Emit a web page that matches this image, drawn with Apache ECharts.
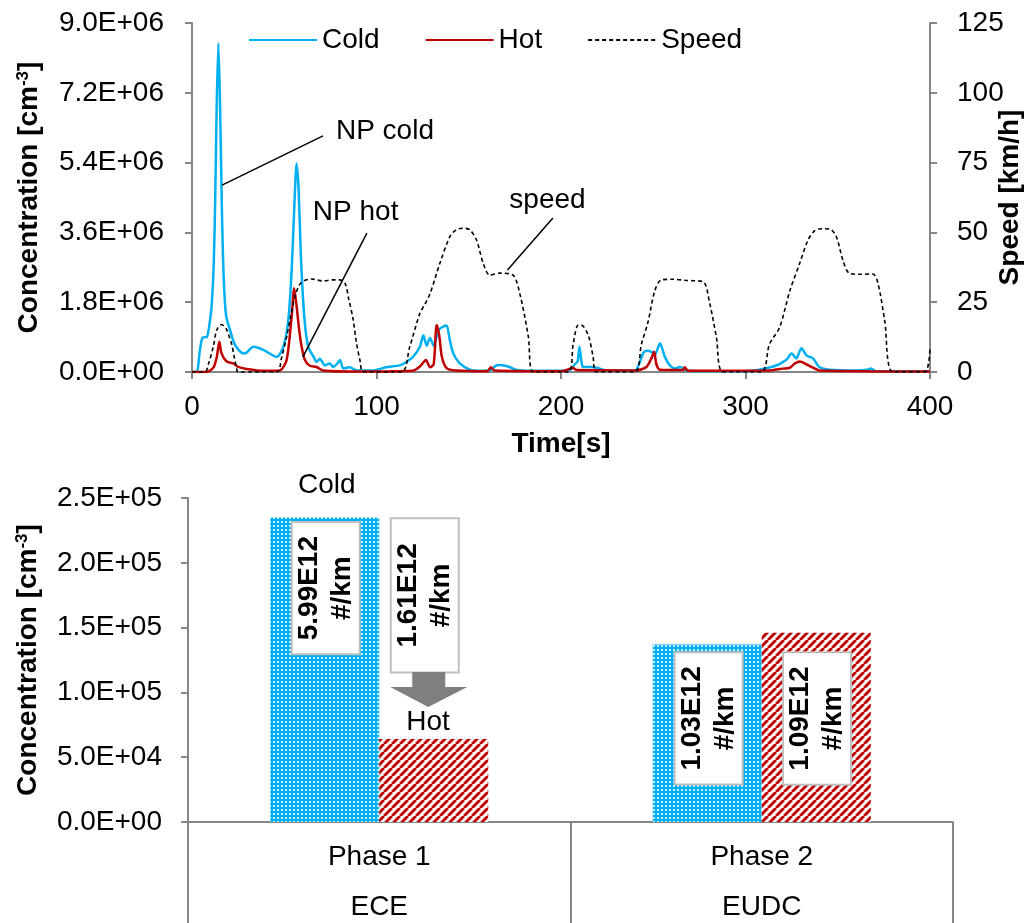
<!DOCTYPE html>
<html>
<head>
<meta charset="utf-8">
<script src="https://cdn.jsdelivr.net/npm/echarts@6/dist/echarts.min.js"></script>
<style>
  html, body { margin: 0; padding: 0; background: #fff; }
  #chart { width: 1025px; height: 923px; }
</style>
</head>
<body>
<div id="chart"></div>
<script>
// --- time trace (top chart) ---
const coldTime = [0, 2.5, 4.3, 5.8, 8, 9.8, 10.8, 11.8, 12.6, 13.4, 14.3, 15.2, 16.2, 17.2, 18.5, 20.6, 23.3, 27.8, 29.6, 33.2, 38.6, 45.9, 49.5, 52.2, 54, 55.4, 56.7, 57.8, 59, 60.3, 61.5, 63, 64.5, 65.8, 67.5, 69.3, 72, 74.7, 76.5, 78.5, 80.2, 82, 85.5, 89.2, 98, 105, 112.6, 116, 120, 123.5, 125.4, 127.2, 129, 131, 133.6, 136.1, 138, 139.7, 141.6, 145, 150.6, 156, 162, 164.5, 166.8, 172, 176, 183, 199, 205, 207.5, 209, 210, 211, 212, 217.4, 224.7, 240, 244.5, 246.3, 249, 250.8, 253.6, 256.3, 259, 261.8, 264.5, 268, 275.5, 300, 315, 322, 325, 327.5, 330.3, 333, 336.6, 340, 345.6, 360, 366, 368, 370.5, 385, 400];
const coldConc = [0, 0, 5.7e5, 8.9e5, 9.0e5, 1.34e6, 1.8e6, 2.8e6, 4.5e6, 6.9e6, 8.48e6, 6.9e6, 4.2e6, 2.4e6, 1.45e6, 1.08e6, 7.0e5, 4.8e5, 5.0e5, 6.5e5, 5.7e5, 3.9e5, 6.5e5, 1.34e6, 2.6e6, 4.2e6, 5.38e6, 4.7e6, 3.0e6, 1.8e6, 1.1e6, 6.5e5, 5.0e5, 4.0e5, 2.6e5, 3.4e5, 1.7e5, 2.2e5, 1.3e5, 2.0e5, 3.1e5, 9e4, 1.2e5, 4e4, 4e4, 1.2e5, 1.7e5, 2.5e5, 4.0e5, 6.5e5, 9.5e5, 6.8e5, 8.8e5, 6.8e5, 1.08e6, 1.17e6, 1.2e6, 8.3e5, 4.8e5, 2.3e5, 6e4, 3e4, 5e4, 1.6e5, 1.8e5, 1.3e5, 5e4, 3e4, 3e4, 6e4, 2e5, 2.7e5, 6.5e5, 3e5, 1.3e5, 1.3e5, 4e4, 4e4, 4.8e5, 5.5e5, 5.2e5, 4.3e5, 7.4e5, 3.9e5, 1.7e5, 9e4, 1.3e5, 4e4, 2e4, 2e4, 1.4e5, 3.1e5, 4.8e5, 3.5e5, 6.1e5, 4.3e5, 3.5e5, 1.3e5, 6e4, 4e4, 6e4, 9e4, 2e4, 2e4, 2e4];

const hotTime = [0, 8, 11.7, 13.5, 14.8, 16, 18.8, 22.4, 25, 29.6, 38.6, 47.6, 51.3, 54, 55.4, 56.7, 58.1, 59.4, 61.2, 63.9, 67.5, 71, 90, 119.6, 123.5, 126.8, 129, 131, 132.6, 134, 135.4, 138, 143, 160, 162, 164, 200, 206.6, 208.4, 241, 246.3, 249, 250.5, 251.7, 253.6, 266.3, 267, 269, 313, 318.5, 324, 326.7, 329.4, 333, 336.6, 340, 400];
const hotConc = [0, 0, 1.2e5, 4e5, 7.8e5, 4.8e5, 2.7e5, 2.2e5, 1.3e5, 8e4, 3e4, 4e4, 3.1e5, 1.43e6, 2.16e6, 1.7e6, 1.08e6, 6.6e5, 3.1e5, 1.6e5, 1.3e5, 4e4, 1e4, 3e4, 1.4e5, 3.1e5, 1.2e5, 2e5, 1.21e6, 9.5e5, 4e5, 1e5, 4e4, 2e4, 1.2e5, 4e4, 2e4, 1e5, 5e4, 4e4, 1.3e5, 3.5e5, 5.2e5, 2e5, 6e4, 5e4, 1.2e5, 3e4, 4e4, 8e4, 1.1e5, 2.2e5, 2.7e5, 2e5, 1.1e5, 4e4, 1e4];

const speedTime = [0, 7, 9, 11.5, 13.4, 16, 18.5, 20, 21.5, 23, 24, 25, 46, 48.5, 51.3, 53.5, 55.8, 58, 60.3, 64.8, 71, 76, 80, 82.9, 85, 87.4, 89, 91, 93, 113.6, 118, 123.5, 126, 129, 134.4, 139.8, 143.4, 147, 150.6, 154.2, 157.8, 161.4, 166.8, 174, 177.7, 182.3, 185, 204, 206.6, 209.3, 211, 214.7, 217.4, 219, 240, 243.6, 247.2, 250.8, 254.4, 260.7, 268, 277, 280.6, 284.2, 288, 308.6, 313, 318.5, 324, 329.4, 333.9, 337.5, 341, 345.6, 349.2, 352.8, 356.4, 361.8, 369, 371.8, 375.4, 380, 397, 400];
const speedKmh = [0, 0, 3, 9, 15, 17, 15.5, 13, 10, 5, 2, 0, 0, 5, 12.6, 20, 27, 31, 32.6, 33.3, 32.6, 33, 33, 31.8, 26, 18.6, 11, 4.3, 0, 0, 9, 21, 24, 28, 39, 48.5, 51, 51.5, 50.9, 47.3, 39, 34.7, 35.4, 34.7, 28, 12.7, 0, 0, 10, 16.8, 16.8, 13.3, 5.5, 0, 0, 10, 18, 29, 33, 33.2, 32.8, 32.3, 24.6, 12.6, 0, 0, 10, 16, 29, 39, 47.3, 50.6, 51.3, 51.2, 48.5, 40, 35.3, 35, 35.1, 31.8, 18.6, 0, 0, 9];

// --- phase means (bottom chart) ---
const phases = ['Phase 1', 'Phase 2'];
const cycles = ['ECE', 'EUDC'];
const coldMean = [2.35e5, 1.37e5];
const hotMean = [6.4e4, 1.46e5];
const coldEmission = ['5.99E12', '1.03E12'];
const hotEmission = ['1.61E12', '1.09E12'];

const FONT = 'Liberation Sans, Arial, sans-serif';
const AXIS_GRAY = '#868686';

function pairs(xs, ys) {
  return xs.map((x, i) => [x, ys[i]]);
}

// 9000000 -> "9.0E+06"
function sci(v) {
  const parts = v.toExponential(1).split('e');
  const e = parseInt(parts[1], 10);
  return parts[0] + 'E' + (e < 0 ? '-' : '+') + String(Math.abs(e)).padStart(2, '0');
}

function dotPattern() {
  const c = document.createElement('canvas');
  c.width = 4; c.height = 4;
  const ctx = c.getContext('2d');
  ctx.fillStyle = '#00b0f0';
  ctx.fillRect(0, 0, 4, 4);
  ctx.fillStyle = 'rgba(255,255,255,0.8)';
  ctx.fillRect(1, 1, 2, 2);
  return c;
}

function stripePattern() {
  const c = document.createElement('canvas');
  c.width = 8; c.height = 8;
  const ctx = c.getContext('2d');
  ctx.fillStyle = '#fff';
  ctx.fillRect(0, 0, 8, 8);
  ctx.strokeStyle = '#c00000';
  ctx.lineWidth = 3;
  // "/" stripes
  for (let k = -8; k <= 8; k += 8) {
    ctx.beginPath();
    ctx.moveTo(k, 8);
    ctx.lineTo(k + 8, 0);
    ctx.stroke();
  }
  return c;
}

const axisLine = { show: true, lineStyle: { color: AXIS_GRAY, width: 2 } };
const axisTick = { show: true, length: 7, lineStyle: { color: AXIS_GRAY, width: 2 } };
const tickFont = { fontSize: 28, color: '#000', fontFamily: FONT };
const nameFont = { fontSize: 28, fontWeight: 'bold', color: '#000', fontFamily: FONT };
const concName = {
  ...nameFont,
  rich: {
    sup: { fontSize: 17, fontWeight: 'bold', verticalAlign: 'top', fontFamily: FONT, color: '#000' }
  }
};

const labelBase = {
  show: true,
  rotate: 90,
  align: 'center',
  verticalAlign: 'middle',
  fontSize: 28,
  fontWeight: 'bold',
  fontFamily: FONT,
  color: '#000',
  lineHeight: 33,
  backgroundColor: '#fff',
  borderColor: '#bfbfbf',
  borderWidth: 2,
  padding: [0, 13]
};

// label box placement relative to each bar's top-left corner
const coldLabelPos = [[55.5, 70.7], [55.9, 74]];
const hotLabelPos = [[45.5, -143.6], [55.2, 85.7]];
const hotLabelPad = [[0, 24], [0, 13]];

const coldBars = coldMean.map((v, i) => ({
  value: v,
  label: { ...labelBase, formatter: coldEmission[i] + '\n#/km', position: coldLabelPos[i] }
}));
const hotBars = hotMean.map((v, i) => ({
  value: v,
  label: { ...labelBase, formatter: hotEmission[i] + '\n#/km', position: hotLabelPos[i], padding: hotLabelPad[i] }
}));

const chart = echarts.init(document.getElementById('chart'));

const option = {
  animation: false,
  textStyle: { fontFamily: FONT, color: '#000' },
  legend: {
    top: 21,
    left: 243,
    itemWidth: 68,
    itemHeight: 14,
    itemGap: 45,
    itemStyle: { opacity: 0 },
    textStyle: { fontSize: 28, color: '#000', fontFamily: FONT },
    data: ['Cold', 'Hot', 'Speed']
  },
  grid: [
    { left: 192, right: 95, top: 23, height: 349, outerBoundsMode: 'none', containLabel: false },
    { left: 188, right: 72, top: 498, height: 324, outerBoundsMode: 'none', containLabel: false }
  ],
  xAxis: [
    {
      type: 'value', gridIndex: 0, min: 0, max: 400, interval: 100,
      axisLine, axisTick,
      axisLabel: { ...tickFont, margin: 21 },
      splitLine: { show: false },
      name: 'Time[s]', nameLocation: 'middle', nameGap: 58, nameTextStyle: nameFont
    },
    {
      type: 'category', gridIndex: 1, data: phases,
      axisLine,
      axisTick: { show: true, length: 110, alignWithLabel: false, lineStyle: { color: AXIS_GRAY, width: 2 } },
      axisLabel: {
        ...tickFont, margin: 10, lineHeight: 50, interval: 0,
        formatter: (val, idx) => val + '\n' + cycles[idx]
      }
    }
  ],
  yAxis: [
    {
      type: 'value', gridIndex: 0, min: 0, max: 9e6, interval: 1.8e6,
      axisLine, axisTick,
      axisLabel: { ...tickFont, margin: 28, formatter: sci },
      splitLine: { show: false },
      name: 'Concentration [cm{sup|-3}]', nameLocation: 'middle', nameGap: 149, nameTextStyle: concName
    },
    {
      type: 'value', gridIndex: 0, position: 'right', min: 0, max: 125, interval: 25,
      axisLine, axisTick,
      axisLabel: { ...tickFont, margin: 27 },
      splitLine: { show: false },
      name: 'Speed [km/h]', nameLocation: 'middle', nameGap: 66, nameMoveOverlap: false,
      nameTextStyle: nameFont
    },
    {
      type: 'value', gridIndex: 1, min: 0, max: 2.5e5, interval: 5e4,
      axisLine, axisTick,
      axisLabel: { ...tickFont, margin: 26, formatter: sci },
      splitLine: { show: false },
      name: 'Concentration [cm{sup|-3}]', nameLocation: 'middle', nameGap: 146, nameTextStyle: concName
    }
  ],
  series: [
    {
      name: 'Cold', type: 'line', xAxisIndex: 0, yAxisIndex: 0,
      data: pairs(coldTime, coldConc), symbol: 'none', smooth: 0.25,
      color: '#00b0f0', lineStyle: { color: '#00b0f0', width: 2.5 }
    },
    {
      name: 'Hot', type: 'line', xAxisIndex: 0, yAxisIndex: 0,
      data: pairs(hotTime, hotConc), symbol: 'none', smooth: 0.25,
      color: '#c00000', lineStyle: { color: '#c00000', width: 2.5 }
    },
    {
      name: 'Speed', type: 'line', xAxisIndex: 0, yAxisIndex: 1,
      data: pairs(speedTime, speedKmh), symbol: 'none', smooth: 0.3,
      color: '#000', lineStyle: { color: '#000', width: 1.6, type: [4, 3] }
    },
    {
      name: 'Cold mean', type: 'bar', xAxisIndex: 1, yAxisIndex: 2,
      data: coldBars, barWidth: 109, barGap: '0%',
      itemStyle: { color: { image: dotPattern(), repeat: 'repeat' } }
    },
    {
      name: 'Hot mean', type: 'bar', xAxisIndex: 1, yAxisIndex: 2,
      data: hotBars, barWidth: 109, barGap: '0%',
      itemStyle: { color: { image: stripePattern(), repeat: 'repeat' } }
    }
  ]
};

chart.setOption(option);

// annotations, anchored on the data coordinates
const px = (x, y) => chart.convertToPixel({ xAxisIndex: 0, yAxisIndex: 0 }, [x, y]);
const pxBar = (cat, y) => chart.convertToPixel({ xAxisIndex: 1, yAxisIndex: 2 }, [cat, y]);

const callouts = [
  { text: 'NP cold', at: [78, 6.2e6], from: [71, 6.09e6], to: [16.3, 4.82e6] },
  { text: 'NP hot', at: [65.5, 4.13e6], from: [94.8, 3.58e6], to: [60.1, 3.9e5] },
  { text: 'speed', at: [172, 4.44e6], from: [195.6, 3.97e6], to: [171, 2.63e6] }
];

const graphics = [];
callouts.forEach((c) => {
  const a = px(c.at[0], c.at[1]);
  const p1 = px(c.from[0], c.from[1]);
  const p2 = px(c.to[0], c.to[1]);
  graphics.push({
    type: 'line', z: 100,
    shape: { x1: p1[0], y1: p1[1], x2: p2[0], y2: p2[1] },
    style: { stroke: '#000', lineWidth: 1.5 }
  });
  graphics.push({
    type: 'text', z: 100,
    style: { text: c.text, x: a[0], y: a[1], font: '28px ' + FONT, fill: '#000', align: 'left', verticalAlign: 'middle' }
  });
});

const coldTop = pxBar(phases[0], coldMean[0]);
const hotTop = pxBar(phases[0], hotMean[0]);
graphics.push({
  type: 'text', z: 100,
  style: { text: 'Cold', x: coldTop[0] - 52.5, y: coldTop[1] - 32, font: '28px ' + FONT, fill: '#000', align: 'center', verticalAlign: 'middle' }
});
graphics.push({
  type: 'text', z: 100,
  style: { text: 'Hot', x: hotTop[0] + 48.75, y: hotTop[1] - 17, font: '28px ' + FONT, fill: '#000', align: 'center', verticalAlign: 'middle' }
});
const ax = hotTop[0], ay = hotTop[1];
graphics.push({
  type: 'polygon', z: 100,
  shape: {
    points: [
      [ax + 33, ay - 67], [ax + 66, ay - 67], [ax + 66, ay - 52], [ax + 88, ay - 52],
      [ax + 49, ay - 32], [ax + 11, ay - 52], [ax + 33, ay - 52]
    ]
  },
  style: { fill: '#7f7f7f' }
});

chart.setOption({ graphic: graphics });
window.addEventListener('resize', () => chart.resize());
</script>
</body>
</html>
